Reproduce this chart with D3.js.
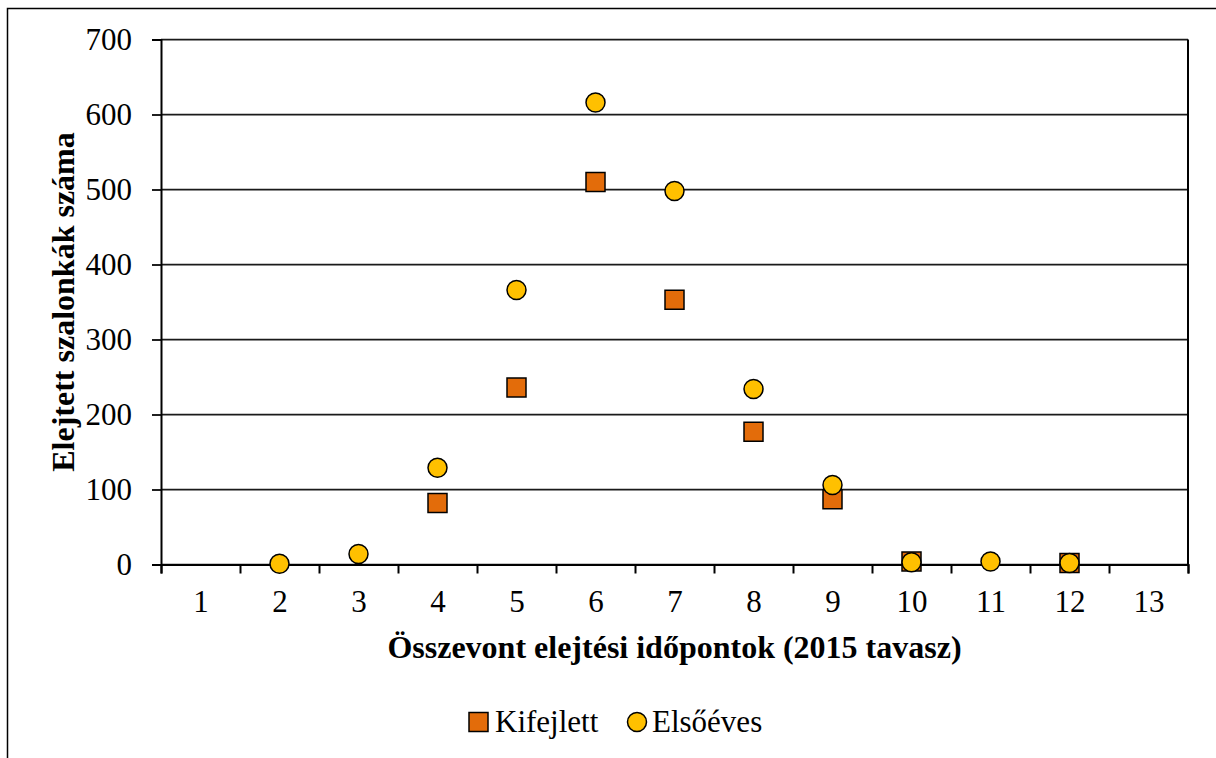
<!DOCTYPE html>
<html>
<head>
<meta charset="utf-8">
<script src="https://cdn.jsdelivr.net/npm/d3@7"></script>
<style>
  body { margin: 0; background: #fff; }
  text { font-family: "Liberation Serif", "Times New Roman", Times, serif !important; }
</style>
</head>
<body>
<div id="chart"></div>
<script>
// category positions (elejtési időpontok)
var categories = [1, 2, 3, 4, 5, 6, 7, 8, 9, 10, 11, 12, 13];
// Kifejlett (adult) – null where no marker
var kifejlett = [null, null, null, 82, 236, 510, 353, 177, 87, 4, null, 2, null];
// Elsőéves (first-year)
var elsoeves = [null, 1, 14, 129, 366, 616, 498, 234, 106, 3, 4, 2, null];
var yTicks = [0, 100, 200, 300, 400, 500, 600, 700];
var seriesNames = ["Kifejlett", "Elsőéves"];

var FONT = "'Liberation Serif', 'Times New Roman', serif";
var W = 1216, H = 758;
var margin = { top: 39.5, right: 28, bottom: 193.5, left: 161 };
var width = W - margin.left - margin.right;
var height = H - margin.top - margin.bottom;

var svg = d3.select("#chart").append("svg")
    .attr("width", W)
    .attr("height", H)
    .style("display", "block");

// outer chart frame (only top + left visible in the crop)
svg.append("path")
    .attr("d", "M7.5,758 L7.5,8.5 L1216,8.5")
    .attr("fill", "none")
    .attr("stroke", "#000")
    .attr("stroke-width", 1.5);

var g = svg.append("g")
    .attr("transform", "translate(" + margin.left + "," + margin.top + ")");

var x = d3.scaleLinear()
    .domain([0.5, 13.5])
    .range([0, width]);

var y = d3.scaleLinear()
    .domain([0, 700])
    .range([height, 0]);

// horizontal gridlines
g.selectAll(".grid")
    .data(yTicks)
    .enter().append("line")
    .attr("class", "grid")
    .attr("x1", 0)
    .attr("x2", width)
    .attr("y1", function(d) { return y(d); })
    .attr("y2", function(d) { return y(d); })
    .attr("stroke", "#1a1a1a")
    .attr("stroke-width", 1.75);

// right plot border
g.append("line")
    .attr("x1", width).attr("x2", width)
    .attr("y1", 0).attr("y2", height)
    .attr("stroke", "#000")
    .attr("stroke-width", 2);

// y axis
var yAxis = g.append("g")
    .call(d3.axisLeft(y).tickValues(yTicks).tickSize(9).tickPadding(20));
yAxis.attr("font-family", FONT);
yAxis.select(".domain").attr("stroke", "#000").attr("stroke-width", 2);
yAxis.selectAll(".tick line").attr("stroke", "#000").attr("stroke-width", 1.75);
yAxis.selectAll(".tick text")
    .style("font-family", FONT)
    .attr("font-size", "31px")
    .attr("fill", "#000");

// x axis: boundary ticks
var bounds = categories.map(function(c) { return c - 0.5; }).concat([13.5]);
var xTickAxis = g.append("g")
    .attr("transform", "translate(0," + height + ")")
    .call(d3.axisBottom(x).tickValues(bounds).tickSize(9).tickFormat(""));
xTickAxis.select(".domain").attr("stroke", "#000").attr("stroke-width", 2);
xTickAxis.selectAll(".tick line").attr("stroke", "#000").attr("stroke-width", 2);

// x axis: category labels
var xLabelAxis = g.append("g")
    .attr("transform", "translate(0," + height + ")")
    .call(d3.axisBottom(x).tickValues(categories).tickSize(0).tickPadding(25).tickFormat(d3.format("d")));
xLabelAxis.attr("font-family", FONT);
xLabelAxis.select(".domain").remove();
xLabelAxis.selectAll(".tick text")
    .style("font-family", FONT)
    .attr("font-size", "31px")
    .attr("fill", "#000");

// axis titles
g.append("text")
    .attr("x", width / 2)
    .attr("y", height + 93)
    .attr("text-anchor", "middle")
    .style("font-family", FONT)
    .attr("font-size", "32px")
    .attr("font-weight", "bold")
    .text("Összevont elejtési időpontok (2015 tavasz)");

g.append("text")
    .attr("transform", "translate(" + (-87) + "," + (height / 2) + ") rotate(-90)")
    .attr("text-anchor", "middle")
    .style("font-family", FONT)
    .attr("font-size", "32px")
    .attr("font-weight", "bold")
    .text("Elejtett szalonkák száma");

// markers
var sq = 19, rad = 9.5;
var kData = categories.map(function(c, i) { return { cat: c, v: kifejlett[i] }; })
    .filter(function(d) { return d.v !== null; });
var eData = categories.map(function(c, i) { return { cat: c, v: elsoeves[i] }; })
    .filter(function(d) { return d.v !== null; });

g.selectAll(".kif")
    .data(kData)
    .enter().append("rect")
    .attr("class", "kif")
    .attr("x", function(d) { return x(d.cat) - sq / 2; })
    .attr("y", function(d) { return y(d.v) - sq / 2; })
    .attr("width", sq)
    .attr("height", sq)
    .attr("fill", "#E36C0A")
    .attr("stroke", "#000")
    .attr("stroke-width", 1.5);

g.selectAll(".els")
    .data(eData)
    .enter().append("circle")
    .attr("class", "els")
    .attr("cx", function(d) { return x(d.cat); })
    .attr("cy", function(d) { return y(d.v); })
    .attr("r", rad)
    .attr("fill", "#FFC000")
    .attr("stroke", "#000")
    .attr("stroke-width", 1.5);

// legend
var legend = svg.append("g").attr("transform", "translate(469,722)");
legend.append("rect")
    .attr("x", 0).attr("y", -sq / 2)
    .attr("width", sq).attr("height", sq)
    .attr("fill", "#E36C0A").attr("stroke", "#000").attr("stroke-width", 1.5);
legend.append("text")
    .attr("x", 26).attr("y", 0).attr("dy", "0.33em")
    .style("font-family", FONT)
    .attr("font-size", "31px")
    .text(seriesNames[0]);
legend.append("circle")
    .attr("cx", 168).attr("cy", 0).attr("r", rad)
    .attr("fill", "#FFC000").attr("stroke", "#000").attr("stroke-width", 1.5);
legend.append("text")
    .attr("x", 183).attr("y", 0).attr("dy", "0.33em")
    .style("font-family", FONT)
    .attr("font-size", "31px")
    .text(seriesNames[1]);
</script>
</body>
</html>
